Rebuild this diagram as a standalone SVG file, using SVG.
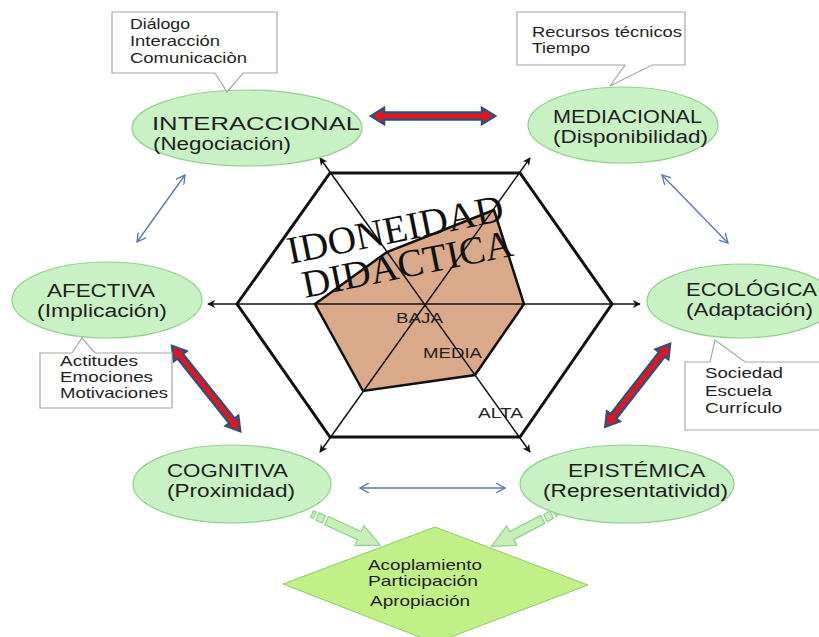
<svg xmlns="http://www.w3.org/2000/svg" width="819" height="637" viewBox="0 0 819 637">
<style>
.ell{fill:#c8f2c3;stroke:#93cf8e;stroke-width:1.2}
.lbl{font-family:"Liberation Sans",Arial,sans-serif;font-size:18px;fill:#1e1e1e}
.box{fill:#fff;stroke:#a6a6a6;stroke-width:1.2}
.bt{font-family:"Liberation Sans",Arial,sans-serif;font-size:15px;fill:#1e1e1e}
.hl{font-family:"Liberation Sans",Arial,sans-serif;font-size:15px;fill:#222}
.ser{font-family:"Liberation Serif","Times New Roman",serif;font-size:39px;fill:#111}
.axis{stroke:#111;stroke-width:1.5;fill:none;marker-start:url(#ah);marker-end:url(#ah)}
.blue{stroke:#5a74b0;stroke-width:1.3;fill:none;marker-start:url(#bh);marker-end:url(#bh)}
.red{fill:#e8141b;stroke:#34507a;stroke-width:2.5;stroke-linejoin:miter}
.grn{fill:#c6f0b6;stroke:#93cf8e;stroke-width:1.2}
</style>
<defs>
<marker id="ah" viewBox="0 0 10 10" refX="9" refY="5" markerWidth="8" markerHeight="8" markerUnits="userSpaceOnUse" orient="auto-start-reverse"><path d="M0,0 L10,5 L0,10 L3,5 Z" fill="#111"/></marker>
<marker id="bh" viewBox="0 0 10 10" refX="9" refY="5" markerWidth="10" markerHeight="10" markerUnits="userSpaceOnUse" orient="auto-start-reverse"><path d="M0,0 L9,5 L0,10" fill="none" stroke="#5a74b0" stroke-width="1.3"/></marker>
</defs>

<g id="radar">
<polygon points="330,173 520,173 612,304 520,437 330,437 237,304" fill="none" stroke="#111" stroke-width="3"/>
<polygon points="315,304 387,252 494,210 524,304 475,375 363,391" fill="#d9a98a" stroke="#111" stroke-width="2.5"/>
<line class="axis" x1="208" y1="304" x2="640" y2="304"/>
<line class="axis" x1="320" y1="158" x2="530" y2="452"/>
<line class="axis" x1="530" y1="158" x2="320" y2="452"/>
<text class="ser" x="290" y="264" transform="rotate(-11.5 290 264)" textLength="220" lengthAdjust="spacingAndGlyphs">IDONEIDAD</text>
<text class="ser" x="305" y="298" transform="rotate(-11.5 305 298)" textLength="214" lengthAdjust="spacingAndGlyphs">DIDACTICA</text>
<text class="hl" x="396" y="323" textLength="47" lengthAdjust="spacingAndGlyphs">BAJA</text>
<text class="hl" x="423" y="358" textLength="59" lengthAdjust="spacingAndGlyphs">MEDIA</text>
<text class="hl" x="478" y="418" textLength="45" lengthAdjust="spacingAndGlyphs">ALTA</text>
</g>

<g id="connectors">
<polygon class="red" points="371,116 384,108 384,112.5 482,112.5 482,108 495,116 482,124 482,119.5 384,119.5 384,124"/>
<g transform="translate(172,346) rotate(51.3)"><polygon class="red" points="0,0 13,-8 13,-3.5 96,-3.5 96,-8 109,0 96,8 96,3.5 13,3.5 13,8"/></g>
<g transform="translate(670,344) rotate(128)"><polygon class="red" points="0,0 13,-8 13,-3.5 92,-3.5 92,-8 105,0 92,8 92,3.5 13,3.5 13,8"/></g>
<line class="blue" x1="185" y1="175" x2="137" y2="242"/>
<line class="blue" x1="662" y1="175" x2="728" y2="243"/>
<line class="blue" x1="360" y1="488" x2="505" y2="488"/>
<g transform="translate(312,514) rotate(24.5)">
<rect class="grn" x="0" y="-3.5" width="3" height="7"/>
<rect class="grn" x="6" y="-4" width="7" height="8"/>
<polygon class="grn" points="16,-4.5 52,-4.5 52,-11 75,0 52,11 52,4.5 16,4.5"/>
</g>
<g transform="translate(557,512) rotate(152.4)">
<rect class="grn" x="0" y="-3.5" width="3" height="7"/>
<rect class="grn" x="6" y="-4" width="7" height="8"/>
<polygon class="grn" points="16,-4.5 51,-4.5 51,-11 74,0 51,11 51,4.5 16,4.5"/>
</g>
</g>

<g id="interaccional">
<ellipse class="ell" cx="247" cy="128" rx="115" ry="38"/>
<text class="lbl" x="152" y="130" textLength="208" lengthAdjust="spacingAndGlyphs">INTERACCIONAL</text>
<text class="lbl" x="153" y="150" textLength="138" lengthAdjust="spacingAndGlyphs">(Negociación)</text>
</g>
<g id="nota-interaccional">
<path class="box" d="M112,12 H277 V73 H243 L227,92 L215,73 H112 Z"/>
<text class="bt" x="130" y="29" textLength="60" lengthAdjust="spacingAndGlyphs">Diálogo</text>
<text class="bt" x="130" y="46" textLength="90" lengthAdjust="spacingAndGlyphs">Interacción</text>
<text class="bt" x="130" y="63" textLength="117" lengthAdjust="spacingAndGlyphs">Comunicaciòn</text>
</g>

<g id="mediacional">
<ellipse class="ell" cx="623" cy="125" rx="95" ry="38"/>
<text class="lbl" x="553" y="123" textLength="149" lengthAdjust="spacingAndGlyphs">MEDIACIONAL</text>
<text class="lbl" x="553" y="143" textLength="155" lengthAdjust="spacingAndGlyphs">(Disponibilidad)</text>
</g>
<g id="nota-mediacional">
<path class="box" d="M517,12 H685 V65 H652 L610,86 L625,65 H517 Z"/>
<text class="bt" x="532" y="37" textLength="150" lengthAdjust="spacingAndGlyphs">Recursos técnicos</text>
<text class="bt" x="532" y="53" textLength="58" lengthAdjust="spacingAndGlyphs">Tiempo</text>
</g>

<g id="afectiva">
<ellipse class="ell" cx="107" cy="300" rx="95" ry="38"/>
<text class="lbl" x="47" y="297" textLength="108" lengthAdjust="spacingAndGlyphs">AFECTIVA</text>
<text class="lbl" x="37" y="317" textLength="130" lengthAdjust="spacingAndGlyphs">(Implicación)</text>
</g>
<g id="nota-afectiva">
<path class="box" d="M40,353 H72 L82,338 L95,353 H172 V408 H40 Z"/>
<text class="bt" x="60" y="366" textLength="78" lengthAdjust="spacingAndGlyphs">Actitudes</text>
<text class="bt" x="60" y="382" textLength="93" lengthAdjust="spacingAndGlyphs">Emociones</text>
<text class="bt" x="60" y="398" textLength="108" lengthAdjust="spacingAndGlyphs">Motivaciones</text>
</g>

<g id="ecologica">
<ellipse class="ell" cx="741" cy="301" rx="94" ry="37"/>
<text class="lbl" x="686" y="296" textLength="131" lengthAdjust="spacingAndGlyphs">ECOLÓGICA</text>
<text class="lbl" x="686" y="316" textLength="127" lengthAdjust="spacingAndGlyphs">(Adaptación)</text>
</g>
<g id="nota-ecologica">
<path class="box" d="M685,362 H710 L715,340 L745,362 H824 V430 H685 Z"/>
<text class="bt" x="705" y="378" textLength="78" lengthAdjust="spacingAndGlyphs">Sociedad</text>
<text class="bt" x="705" y="396" textLength="67" lengthAdjust="spacingAndGlyphs">Escuela</text>
<text class="bt" x="705" y="413" textLength="77" lengthAdjust="spacingAndGlyphs">Currículo</text>
</g>

<g id="cognitiva">
<ellipse class="ell" cx="232" cy="484" rx="99" ry="39"/>
<text class="lbl" x="167" y="477" textLength="121" lengthAdjust="spacingAndGlyphs">COGNITIVA</text>
<text class="lbl" x="167" y="497" textLength="128" lengthAdjust="spacingAndGlyphs">(Proximidad)</text>
</g>

<g id="epistemica">
<ellipse class="ell" cx="627" cy="484" rx="107" ry="39"/>
<text class="lbl" x="568" y="477" textLength="137" lengthAdjust="spacingAndGlyphs">EPISTÉMICA</text>
<text class="lbl" x="543" y="497" textLength="185" lengthAdjust="spacingAndGlyphs">(Representatividd)</text>
</g>

<g id="apropiacion">
<polygon points="435,527 588,585 435,643 283,584" fill="#c0f086" stroke="#8fc86a" stroke-width="1"/>
<text class="bt" x="368" y="570" textLength="114" lengthAdjust="spacingAndGlyphs">Acoplamiento</text>
<text class="bt" x="368" y="586" textLength="110" lengthAdjust="spacingAndGlyphs">Participación</text>
<text class="bt" x="370" y="606" textLength="100" lengthAdjust="spacingAndGlyphs">Apropiación</text>
</g>
</svg>
